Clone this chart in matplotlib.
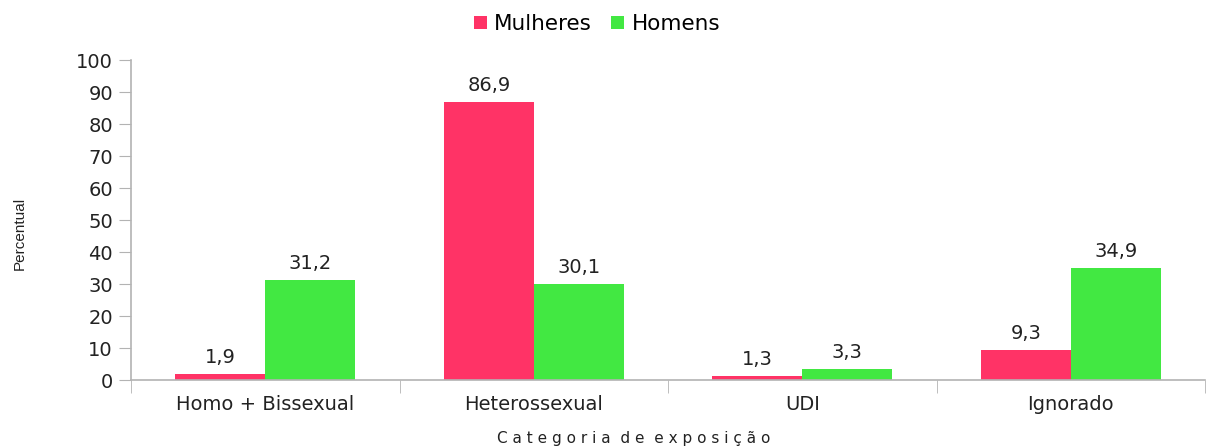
import matplotlib
matplotlib.use("Agg")
import matplotlib.pyplot as plt
import numpy as np

categories = ["Homo + Bissexual", "Heterossexual", "UDI", "Ignorado"]
mulheres = [1.9, 86.9, 1.3, 9.3]
homens = [31.2, 30.1, 3.3, 34.9]
series_names = ["Mulheres", "Homens"]
colors = ["#ff3366", "#42e842"]

plt.rcParams['font.family'] = ['DejaVu Sans']
FS = 14
TXT = "#222222"

fig = plt.figure(figsize=(12.09, 4.48), dpi=100)
ax = fig.add_axes([131/1209, 1-380/448, (1205-131)/1209, 320/448])

x = np.arange(len(categories))
w = 0.335
b1 = ax.bar(x - w/2, mulheres, w, color=colors[0], label=series_names[0])
b2 = ax.bar(x + w/2, homens, w, color=colors[1], label=series_names[1])

def fmt(v):
    return f"{v:.1f}".replace(".", ",")

for bars, vals in ((b1, mulheres), (b2, homens)):
    for r, v in zip(bars, vals):
        ax.annotate(fmt(v), (r.get_x() + r.get_width()/2, v), xytext=(0, 5),
                    textcoords="offset points", ha="center", va="bottom",
                    fontsize=FS, color=TXT)

ax.set_xlim(-0.5, len(categories) - 0.5)
ax.set_ylim(0, 100)
ax.set_yticks(np.arange(0, 101, 10))
ax.tick_params(axis='y', labelsize=FS, length=9, color="#b3b3b3", labelcolor=TXT, pad=4)
ax.set_xticks(x)
ax.set_xticklabels(categories, fontsize=FS, color=TXT)
ax.tick_params(axis='x', length=0, pad=11)
ax.set_xticks(np.arange(-0.5, len(categories)), minor=True)
ax.tick_params(axis='x', which='minor', length=9, color="#b3b3b3")

for s in ['top', 'right']:
    ax.spines[s].set_visible(False)
for s in ['left', 'bottom']:
    ax.spines[s].set_color("#b3b3b3")
    ax.spines[s].set_linewidth(1.2)

fig.text(634/1209, 1-438/448, "C a t e g o r i a  d e  e x p o s i ç ã o", fontsize=11,
         color=TXT, ha="center", va="center")
fig.text(20/1209, 1-233/448, "Percentual", rotation=90, fontsize=11, ha="center", va="center",
         color=TXT, family="Liberation Sans")

fig.legend(loc="center", bbox_to_anchor=(597/1209, 1-24/448), ncol=2, frameon=False,
           fontsize=15.5, handlelength=0.6, handleheight=0.6, handletextpad=0.35, columnspacing=0.9)

fig.savefig("out.png", dpi=100)
